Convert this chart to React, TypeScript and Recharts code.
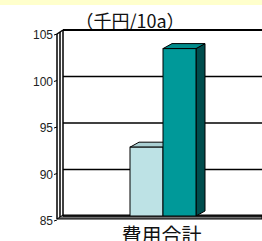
import { BarChart, Bar, XAxis, YAxis, CartesianGrid } from "recharts";

const categories = ["費用合計"];
const prevCost = [92.4];
const curCost = [103.0];
const yTicks = [85, 90, 95, 100, 105];

const data = categories.map((name, i) => ({ name, prev: prevCost[i], cur: curCost[i] }));

const DX = 9;
const DY = 5;

const Box3D = (colors: { front: string; top: string; side: string }) => (props: any) => {
  const { x, y, width: w, height: h } = props;
  return (
    <g stroke="#000" strokeWidth={1}>
      <polygon
        points={`${x + w},${y} ${x + w + DX},${y - DY} ${x + w + DX},${y + h - DY} ${x + w},${y + h}`}
        fill={colors.side}
      />
      <polygon
        points={`${x},${y} ${x + DX},${y - DY} ${x + w + DX},${y - DY} ${x + w},${y}`}
        fill={colors.top}
      />
      <rect x={x} y={y} width={w} height={h} fill={colors.front} />
    </g>
  );
};

const YTick = ({ y, payload }: any) => (
  <g>
    <line x1={54} y1={y + 5} x2={57} y2={y + 4} stroke="#000" />
    <text
      x={53}
      y={y + 5}
      textAnchor="end"
      dominantBaseline="central"
      fontSize={12}
      fontFamily="Liberation Sans, Arial, sans-serif"
      fill="#222"
    >
      {payload.value}
    </text>
  </g>
);

const XTick = ({ x, payload }: any) => (
  <text
    x={x - 1}
    y={243}
    textAnchor="middle"
    fontSize={20}
    fontFamily="Noto Sans CJK JP, sans-serif"
    fill="#111"
  >
    {payload.value}
  </text>
);

export default function App() {
  return (
    <div
      style={{
        position: "fixed",
        left: 0,
        top: 0,
        width: 262,
        height: 241,
        overflow: "hidden",
        background: "#fff",
      }}
    >
      {/* walls, floor and title behind the chart */}
      <svg width={262} height={241} style={{ position: "absolute", left: 0, top: 0 }}>
        <rect x={0} y={0} width={262} height={5} fill="#FFFFCC" />
        <text
          x={130}
          y={28}
          textAnchor="middle"
          fontSize={18}
          fontFamily="Noto Sans CJK JP, sans-serif"
          fill="#111"
        >
          （千円/10a）
        </text>
        <polygon points="57,219 63,215 262,215 262,219" fill="#707070" stroke="#000" />
        <line x1={57} y1={34} x2={57} y2={219} stroke="#000" strokeWidth={1.5} />
        <line x1={60} y1={32} x2={60} y2={217} stroke="#000" strokeWidth={1.5} />
        <line x1={57} y1={34} x2={63} y2={30} stroke="#000" strokeWidth={1.5} />
        <line x1={63} y1={30} x2={63} y2={216} stroke="#000" strokeWidth={1.5} />
        <line x1={63} y1={30} x2={262} y2={30} stroke="#000" strokeWidth={2} />
      </svg>
      <div style={{ position: "absolute", left: 0, top: 0 }}>
        <BarChart
          width={262}
          height={241}
          data={data}
          margin={{ top: 30, right: 0, bottom: 0, left: 0 }}
          barGap={0}
        >
          <CartesianGrid vertical={false} stroke="#000" strokeWidth={1.5} strokeOpacity={1} />
          <XAxis
            dataKey="name"
            height={25}
            axisLine={false}
            tickLine={false}
            tick={<XTick />}
            interval={0}
          />
          <YAxis
            width={63}
            domain={[85, 105]}
            ticks={yTicks}
            allowDataOverflow
            axisLine={false}
            tickLine={false}
            tick={<YTick />}
          />
          <Bar
            dataKey="prev"
            barSize={33}
            isAnimationActive={false}
            shape={Box3D({ front: "#BDE2E5", top: "#A9CFD2", side: "#7FA9AC" })}
          />
          <Bar
            dataKey="cur"
            barSize={33}
            isAnimationActive={false}
            shape={Box3D({ front: "#009999", top: "#008C8C", side: "#004D4D" })}
          />
        </BarChart>
      </div>
    </div>
  );
}
